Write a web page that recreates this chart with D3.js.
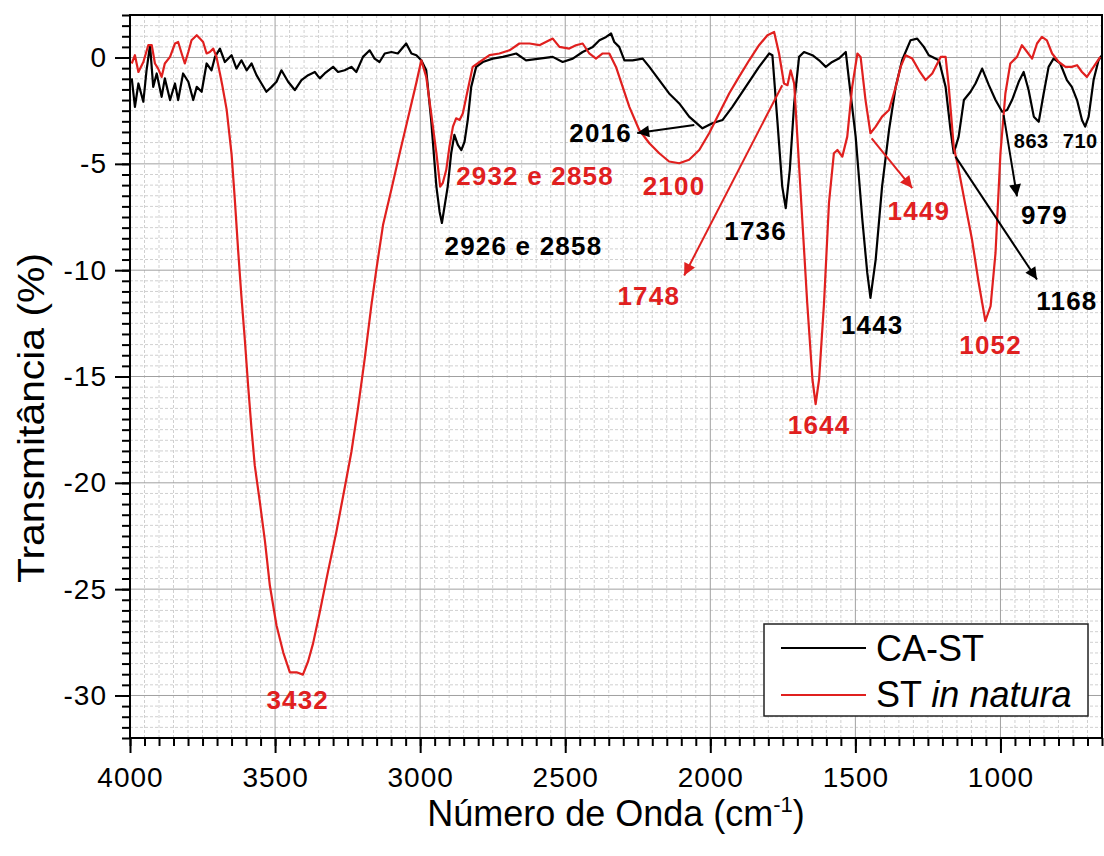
<!DOCTYPE html>
<html>
<head>
<meta charset="utf-8">
<title>FTIR CA-ST</title>
<script src="https://d3js.org/d3.v7.min.js"></script>
<style>
	body { margin: 0; background: #fff; }
	svg text { font-family: "Liberation Sans", Arial, sans-serif; }
	.grid-major line { stroke: #a0a0a0; stroke-width: 1; }
	.grid-minor line { stroke: #d0d0d0; stroke-width: 1; stroke-dasharray: 3,2; }
	.axis path, .axis line { stroke: #000; stroke-width: 2; }
	.axis text { font-size: 28px; letter-spacing: 1px; fill: #000; }
	.note { font-weight: bold; font-size: 26px; letter-spacing: 1.2px; }
</style>
</head>
<body>
<svg id="chart"></svg>
<script>
// CA-ST (black)
var wnCA = [3994,3983,3971,3954,3943,3931,3920,3908,3891,3880,3862,3845,3834,3817,3799,3782,3770,3753,3736,3719,
	3707,3690,3673,3650,3633,3616,3598,3581,3564,3547,3530,3512,3495,3478,3455,3432,3409,3386,3363,3346,
	3329,3300,3283,3260,3237,3220,3197,3174,3157,3140,3122,3099,3077,3048,3030,3013,2996,2979,2962,2944,
	2933,2925,2905,2893,2882,2870,2858,2847,2836,2824,2807,2784,2750,2715,2669,2635,2589,2543,2509,2474,
	2440,2405,2382,2359,2342,2331,2314,2296,2268,2233,2210,2176,2142,2107,2073,2027,1993,1958,1924,1878,
	1832,1797,1786,1769,1752,1740,1726,1711,1694,1677,1648,1625,1602,1580,1557,1533,1522,1499,1476,1459,
	1448,1430,1408,1384,1361,1339,1310,1287,1264,1247,1212,1189,1172,1161,1144,1126,1103,1086,1063,1040,
	1017,994,977,960,937,920,903,885,868,851,834,817,794,771,754,736,719,708,696,679,662,650];
var tCA = [-0.98,-2.32,-1.22,-2.08,-0.60,0.58,-1.38,-0.75,-1.85,-0.98,-2.00,-1.22,-2.00,-0.75,-1.14,-2.00,-1.38,-1.61,-0.28,-0.60,
	0.03,0.42,-0.21,0.11,-0.52,-0.13,-0.60,-0.28,-0.83,-1.22,-1.61,-1.38,-1.14,-0.60,-1.14,-1.53,-1.06,-0.83,-0.68,-0.98,
	-0.75,-0.44,-0.68,-0.60,-0.44,-0.68,0.03,0.34,-0.05,-0.21,0.19,0.26,0.19,0.66,0.19,0.11,-0.13,-0.60,-2.94,-6.07,
	-7.25,-7.78,-6.07,-4.50,-3.64,-4.11,-4.35,-3.96,-2.94,-1.38,-0.44,-0.21,-0.05,0.03,0.19,-0.13,-0.05,0.03,-0.21,-0.05,
	0.26,0.50,0.81,0.97,1.13,0.73,0.50,-0.13,-0.13,-0.05,-0.44,-1.06,-1.69,-2.16,-2.78,-3.33,-3.09,-2.94,-2.32,-1.38,
	-0.44,0.19,0.11,-2.94,-6.07,-7.08,-5.28,-2.16,0.03,0.26,0.11,-0.13,-0.44,-0.21,-0.05,0.26,-1.06,-3.72,-7.63,-10.13,
	-11.30,-9.50,-6.07,-3.41,-1.38,-0.13,0.81,0.89,0.50,0.11,-0.13,-1.38,-3.41,-4.50,-3.72,-2.00,-1.61,-1.22,-0.52,-1.30,
	-2.00,-2.55,-2.47,-2.00,-1.14,-0.68,-1.53,-2.78,-3.02,-1.69,-0.44,-0.05,-0.28,-1.06,-1.38,-2.00,-2.94,-3.25,-2.78,-1.06,-0.13,0.11];

// ST in natura (red)
var wnST = [3994,3983,3971,3954,3937,3925,3914,3903,3891,3880,3862,3845,3834,3822,3811,3799,3788,3770,3759,3748,
	3736,3725,3713,3702,3690,3682,3667,3650,3639,3627,3616,3604,3593,3581,3570,3553,3535,3518,3495,3472,
	3449,3426,3404,3386,3369,3346,3318,3289,3260,3237,3214,3191,3168,3151,3128,3099,3071,3042,3013,2996,
	2979,2962,2944,2931,2922,2910,2899,2887,2876,2864,2853,2836,2819,2795,2761,2727,2692,2658,2623,2589,
	2543,2520,2486,2463,2440,2417,2394,2371,2348,2325,2302,2279,2245,2210,2176,2142,2107,2073,2038,2004,
	1969,1935,1901,1866,1832,1803,1780,1763,1746,1734,1723,1711,1700,1683,1666,1648,1637,1625,1608,1591,
	1574,1562,1545,1528,1511,1493,1482,1465,1448,1430,1408,1384,1361,1344,1327,1304,1281,1258,1235,1206,
	1189,1178,1161,1144,1120,1098,1075,1052,1034,1017,1000,983,966,943,926,908,891,874,857,840,
	822,799,776,754,736,719,702,679,656];
var tST = [-0.28,0.11,-0.68,-0.21,0.58,0.58,-0.28,-0.52,-0.91,-0.28,0.03,0.66,0.73,0.19,-0.28,0.26,0.81,1.05,0.89,0.73,
	0.19,0.26,0.42,0.03,-0.75,-1.30,-2.44,-4.53,-6.62,-9.13,-11.23,-13.32,-15.41,-17.50,-19.18,-20.85,-22.73,-24.83,-26.71,-27.97,
	-28.91,-28.91,-29.02,-28.39,-27.55,-26.09,-24.20,-22.32,-20.23,-18.55,-16.46,-14.16,-11.64,-9.97,-7.88,-6.20,-4.53,-2.85,-1.18,-0.13,
	-0.91,-2.63,-4.50,-6.07,-5.90,-5.28,-4.19,-3.25,-2.86,-2.94,-2.63,-1.53,-0.44,-0.21,0.11,0.19,0.34,0.66,0.66,0.58,
	0.89,0.50,0.42,0.58,0.66,0.19,-0.05,0.19,0.19,-0.44,-1.38,-2.32,-3.41,-4.03,-4.50,-4.89,-4.97,-4.81,-4.35,-3.56,
	-2.61,-1.69,-0.91,-0.13,0.58,1.05,1.20,0.19,-1.22,-1.30,-0.60,-1.22,-3.72,-7.63,-11.53,-15.13,-16.30,-15.13,-11.53,-6.84,
	-4.50,-4.35,-4.66,-3.72,-1.38,0.19,0.03,-2.00,-3.56,-3.25,-2.78,-2.47,-1.38,-0.44,0.11,-0.05,-0.60,-1.06,-0.75,0.03,
	0.03,-1.38,-4.19,-5.28,-7.00,-8.56,-10.59,-12.39,-11.69,-9.19,-4.50,-1.69,-0.28,0.03,0.58,0.26,-0.05,0.66,0.97,0.81,
	0.19,-0.21,-0.44,-0.44,-0.36,-0.68,-0.91,-0.44,0.03];

var seriesNames = ['CA-ST', 'ST in natura'];
var xTicks = [4000, 3500, 3000, 2500, 2000, 1500, 1000];
var yTicks = [0, -5, -10, -15, -20, -25, -30];

// peak labels: text, wavenumber, value, colour, size
var noteText  = ['3432', '2932 e 2858', '2926 e 2858', '2016', '2100', '1736', '1748', '1644', '1443', '1449', '1052', '979', '1168', '863', '710'];
var noteWn    = [3422, 2876, 2916, 2486, 2233, 1952, 2320, 1625, 1442, 1281, 1034, 848, 771, 894, 725];
var noteVal   = [-30.64, -5.99, -9.27, -3.96, -6.45, -8.60, -11.66, -17.70, -13.02, -7.63, -13.95, -7.81, -11.85, -4.27, -4.27];
var noteColor = ['r', 'r', 'k', 'k', 'r', 'k', 'r', 'r', 'k', 'r', 'r', 'k', 'k', 'k', 'k'];
var noteAnchor = ['middle', 'start', 'start', 'start', 'start', 'start', 'start', 'middle', 'middle', 'middle', 'middle', 'middle', 'middle', 'middle', 'middle'];
var noteSmall = [0,0,0,0,0,0,0,0,0,0,0,0,0,1,1];

// arrows: from (wn,val) to (wn,val)
var arrowFromWn = [2055, 1752, 1444, 989, 1155];
var arrowFromV  = [-3.17, -1.30, -3.80, -2.71, -4.66];
var arrowToWn   = [2252, 2090, 1304, 943, 874];
var arrowToV    = [-3.55, -10.25, -6.14, -6.53, -10.44];
var arrowColor  = ['k', 'r', 'r', 'k', 'k'];

(function () {
	var RED = '#e0201f', BLACK = '#000';
	var col = function (c) { return c === 'r' ? RED : BLACK; };
	var _left = 130, _right = 1102, _top = 15, _bottom = 738;

	var _x = d3.scaleLinear().domain([4000, 650]).range([_left, _right]);
	var _y = d3.scaleLinear().domain([2, -32]).range([_top, _bottom]);

	var svg = d3.select('#chart').attr('width', 1104).attr('height', 856);

	var xMinor = d3.range(4000, 649, -50);
	var yMinor = d3.range(2, -32.01, -0.5);

	// minor grid
	var gm = svg.append('g').attr('class', 'grid-minor');
	gm.selectAll('.v').data(xMinor.filter(function (d) { return d % 500 !== 0; })).enter().append('line')
		.attr('x1', _x).attr('x2', _x).attr('y1', _top).attr('y2', _bottom);
	gm.selectAll('.h').data(yMinor.filter(function (d) { return d % 5 !== 0; })).enter().append('line')
		.attr('y1', _y).attr('y2', _y).attr('x1', _left).attr('x2', _right);

	// major grid
	var gM = svg.append('g').attr('class', 'grid-major');
	gM.selectAll('.v').data(xTicks.filter(function (d) { return d !== 4000; })).enter().append('line')
		.attr('x1', _x).attr('x2', _x).attr('y1', _top).attr('y2', _bottom);
	gM.selectAll('.h').data(yTicks).enter().append('line')
		.attr('y1', _y).attr('y2', _y).attr('x1', _left).attr('x2', _right);

	// spectra
	var line = d3.line().x(function (d) { return _x(d[0]); }).y(function (d) { return _y(d[1]); });
	var caData = wnCA.map(function (w, i) { return [w, tCA[i]]; });
	var stData = wnST.map(function (w, i) { return [w, tST[i]]; });
	var plot = svg.append('g');
	plot.append('path').datum(caData).attr('d', line)
		.attr('fill', 'none').attr('stroke', BLACK).attr('stroke-width', 2.2).attr('stroke-linejoin', 'round');
	plot.append('path').datum(stData).attr('d', line)
		.attr('fill', 'none').attr('stroke', RED).attr('stroke-width', 2.2).attr('stroke-linejoin', 'round');

	// axes
	svg.append('g').attr('class', 'axis').attr('transform', 'translate(0,' + _bottom + ')')
		.call(d3.axisBottom(_x).tickValues(xMinor).tickSize(8).tickFormat(''));
	svg.append('g').attr('class', 'axis').attr('transform', 'translate(0,' + _bottom + ')')
		.call(d3.axisBottom(_x).tickValues(xTicks).tickSize(15).tickPadding(14).tickFormat(d3.format('d')));
	svg.append('g').attr('class', 'axis').attr('transform', 'translate(' + _left + ',0)')
		.call(d3.axisLeft(_y).tickValues(yMinor).tickSize(8).tickFormat(''));
	svg.append('g').attr('class', 'axis').attr('transform', 'translate(' + _left + ',0)')
		.call(d3.axisLeft(_y).tickValues(yTicks).tickSize(15).tickPadding(8).tickFormat(function (d) { return d < 0 ? '-' + (-d) : d; }));
	svg.selectAll('.axis path').remove();

	// frame
	svg.append('rect').attr('x', _left).attr('y', _top).attr('width', _right - _left).attr('height', _bottom - _top)
		.attr('fill', 'none').attr('stroke', '#000').attr('stroke-width', 2);

	// axis titles
	var xt = svg.append('text').attr('x', (_left + _right) / 2).attr('y', 826)
		.attr('text-anchor', 'middle').style('font-size', '36px');
	xt.append('tspan').text('Número de Onda (cm');
	xt.append('tspan').attr('dy', -14).style('font-size', '22px').text('-1');
	xt.append('tspan').attr('dy', 14).text(')');

	svg.append('text').attr('transform', 'translate(44,418) rotate(-90)')
		.attr('text-anchor', 'middle').style('font-size', '36px')
		.attr('textLength', 330).attr('lengthAdjust', 'spacingAndGlyphs')
		.text('Transmitância (%)');

	// arrow markers
	var defs = svg.append('defs');
	[['k', BLACK], ['r', RED]].forEach(function (m) {
		defs.append('marker').attr('id', 'ah_' + m[0]).attr('viewBox', '0 0 10 10')
			.attr('refX', 10).attr('refY', 5).attr('markerUnits', 'userSpaceOnUse')
			.attr('markerWidth', 16).attr('markerHeight', 12).attr('orient', 'auto')
			.append('path').attr('d', 'M0,0 L10,5 L0,10 z').attr('fill', m[1]);
	});

	svg.append('g').selectAll('line').data(arrowFromWn).enter().append('line')
		.attr('x1', function (d) { return _x(d); })
		.attr('y1', function (d, i) { return _y(arrowFromV[i]); })
		.attr('x2', function (d, i) { return _x(arrowToWn[i]); })
		.attr('y2', function (d, i) { return _y(arrowToV[i]); })
		.attr('stroke', function (d, i) { return col(arrowColor[i]); })
		.attr('stroke-width', 2)
		.attr('marker-end', function (d, i) { return 'url(#ah_' + arrowColor[i] + ')'; });

	// peak labels
	svg.append('g').selectAll('text').data(noteText).enter().append('text')
		.attr('class', 'note')
		.attr('x', function (d, i) { return _x(noteWn[i]); })
		.attr('y', function (d, i) { return _y(noteVal[i]); })
		.attr('text-anchor', function (d, i) { return noteAnchor[i]; })
		.style('font-size', function (d, i) { return noteSmall[i] ? '20px' : '26px'; })
		.style('letter-spacing', function (d, i) { return noteSmall[i] ? '0.5px' : '1.2px'; })
		.attr('fill', function (d, i) { return col(noteColor[i]); })
		.text(function (d) { return d; });

	// legend
	var lg = svg.append('g');
	lg.append('rect').attr('x', 764).attr('y', 624).attr('width', 324).attr('height', 92)
		.attr('fill', '#fff').attr('stroke', '#222').attr('stroke-width', 1.5);
	[BLACK, RED].forEach(function (c, i) {
		var yy = 648 + i * 47;
		lg.append('line').attr('x1', 781).attr('x2', 866).attr('y1', yy).attr('y2', yy)
			.attr('stroke', c).attr('stroke-width', 2);
	});
	lg.append('text').attr('x', 876).attr('y', 661).style('font-size', '36px').text(seriesNames[0]);
	var l2 = lg.append('text').attr('x', 876).attr('y', 707).style('font-size', '36px');
	l2.append('tspan').text('ST ');
	l2.append('tspan').style('font-style', 'italic').text('in natura');
}());
</script>
</body>
</html>
